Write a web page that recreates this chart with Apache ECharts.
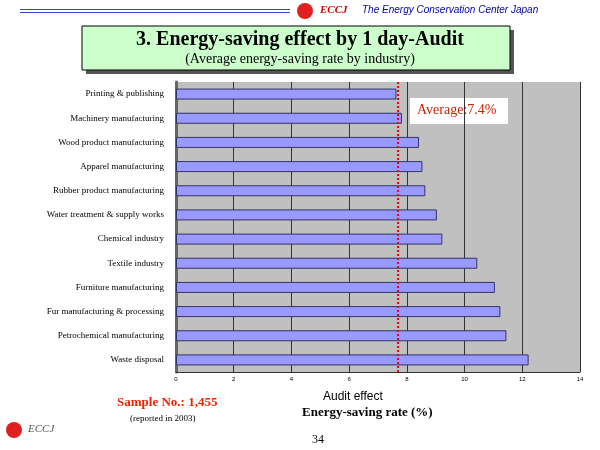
<!DOCTYPE html>
<html><head><meta charset="utf-8">
<script src="https://cdn.jsdelivr.net/npm/echarts@6/dist/echarts.min.js"></script>
<style>html,body{margin:0;padding:0;background:#fff}#c{width:600px;height:450px}</style>
</head><body><div id="c"></div>
<script>
const categories = ["Printing & publishing","Machinery manufacturing","Wood product manufacturing","Apparel manufacturing","Rubber product manufacturing","Water treatment & supply works","Chemical industry","Textile industry","Furniture manufacturing","Fur manufacturing & processing","Petrochemical manufacturing","Waste disposal"];
const values = [7.64,7.83,8.42,8.54,8.64,9.04,9.23,10.44,11.05,11.24,11.45,12.22];
const averageLine = 7.7;
const xTicks = [0,2,4,6,8,10,12,14];

const chart = echarts.init(document.getElementById('c'));
chart.setOption({
  animation:false,
  grid:{left:176,right:20,top:82,bottom:78},
  xAxis:{type:'value',min:0,max:14,interval:2,
    axisLabel:{fontSize:6,color:'#000',fontFamily:'Liberation Sans',margin:4},
    axisLine:{show:true,lineStyle:{color:'#333'}},axisTick:{show:false},
    splitLine:{lineStyle:{color:'#333',width:1}}},
  yAxis:{type:'category',data:categories,inverse:true,
    axisLabel:{fontSize:9,color:'#000',fontFamily:'Liberation Serif',margin:12},
    axisLine:{lineStyle:{color:'#666',width:3}},axisTick:{show:false}},
  series:[{type:'bar',data:values,barWidth:11,
    itemStyle:{color:'#9999ff',borderColor:'#333366',borderWidth:1},
    markLine:{symbol:'none',silent:true,label:{show:false},
      lineStyle:{color:'#ff0000',type:'dotted',width:2},
      data:[{xAxis:averageLine}]}}],
  graphic:[
    {type:'rect',z:-1,shape:{x:176,y:82,width:404,height:290},style:{fill:'#c0c0c0'}},
    {type:'rect',shape:{x:20,y:9,width:270,height:1},style:{fill:'#3344cc'}},
    {type:'rect',shape:{x:20,y:12,width:270,height:1},style:{fill:'#3344cc'}},
    {type:'circle',shape:{cx:305,cy:11,r:8},style:{fill:'#e02020'}},
    {type:'text',left:320,top:5,style:{text:'ECCJ',font:'bold italic 11px Liberation Serif',fill:'#cc0000'}},
    {type:'text',left:362,top:5,style:{text:'The Energy Conservation Center Japan',font:'italic 10px Liberation Sans',fill:'#0000aa'}},
    {type:'rect',shape:{x:86,y:30,width:428,height:44},style:{fill:'#555'}},
    {type:'rect',shape:{x:82,y:26,width:428,height:44},style:{fill:'#ccffcc',stroke:'#000',lineWidth:1}},
    {type:'text',left:'center',top:30,style:{x:0,text:'3. Energy-saving effect by 1 day-Audit',font:'bold 20px Liberation Serif',fill:'#000'}},
    {type:'text',left:'center',top:52,style:{text:'(Average energy-saving rate by industry)',font:'14px Liberation Serif',fill:'#000'}},
    {type:'rect',shape:{x:410,y:98,width:98,height:26},style:{fill:'#fff'}},
    {type:'text',left:417,top:103,style:{text:'Average:7.4%',font:'14px Liberation Serif',fill:'#cc2200'}},
    {type:'text',left:323,top:391,style:{text:'Audit effect',font:'12px Liberation Sans',fill:'#000'}},
    {type:'text',left:302,top:406,style:{text:'Energy-saving rate (%)',font:'bold 13px Liberation Serif',fill:'#000'}},
    {type:'text',left:117,top:396,style:{text:'Sample No.: 1,455',font:'bold 13px Liberation Serif',fill:'#ee2200'}},
    {type:'text',left:130,top:414,style:{text:'(reported in 2003)',font:'9px Liberation Serif',fill:'#000'}},
    {type:'text',left:312,top:434,style:{text:'34',font:'12px Liberation Serif',fill:'#000'}},
    {type:'circle',shape:{cx:14,cy:430,r:8},style:{fill:'#e02020'}},
    {type:'text',left:28,top:424,style:{text:'ECCJ',font:'italic 11px Liberation Serif',fill:'#555'}}
  ]
});
</script></body></html>
